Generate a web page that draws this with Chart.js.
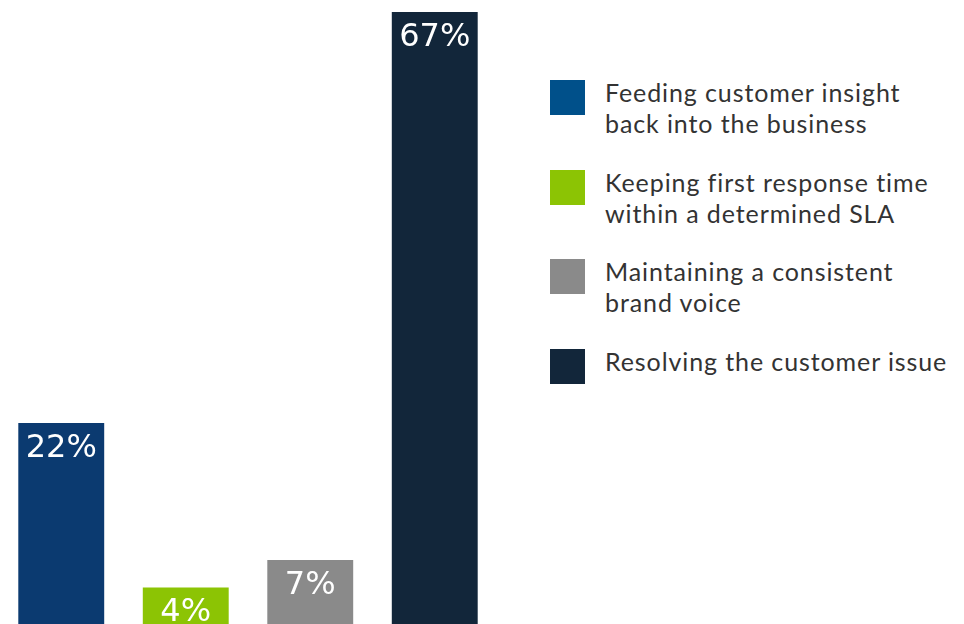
<!DOCTYPE html>
<html>
<head>
<meta charset="utf-8">
<script src="https://cdn.jsdelivr.net/npm/chart.js@4.4.1/dist/chart.umd.min.js"></script>
<style>
    body { margin: 0; background: #fff; width: 964px; height: 624px; overflow: hidden; position: relative; }
    .chart-box { position: absolute; left: -1px; top: 0; width: 498px; height: 624px; }
    .legend { position: absolute; left: 550px; top: 80px; font-family: Lato, sans-serif; font-size: 25px; letter-spacing: 0.9px; color: #333; }
    .legend-item { position: relative; height: 89.5px; }
    .legend-item .swatch { position: absolute; left: 0; top: 0; width: 35px; height: 35px; }
    .legend-item .text { position: absolute; left: 55px; top: -3px; line-height: 31px; white-space: nowrap; }
</style>
</head>
<body>
<div class="chart-box"><canvas id="barChart"></canvas></div>
<div class="legend" id="legend"></div>

<script>
const categories = [
    ['Feeding customer insight', 'back into the business'],
    ['Keeping first response time', 'within a determined SLA'],
    ['Maintaining a consistent', 'brand voice'],
    ['Resolving the customer issue']
];
const values = [22, 4, 7, 67];
const barColors = ['#0b3a70', '#8cc404', '#8a8a8a', '#12263a'];
const legendColors = ['#00508a', '#8cc404', '#8a8a8a', '#12263a'];

// legend on the right, one square + wrapped label per category
const legend = document.getElementById('legend');
categories.forEach((lines, i) => {
    const item = document.createElement('div');
    item.className = 'legend-item';
    item.innerHTML = '<div class="swatch" style="background:' + legendColors[i] + '"></div>' +
        '<div class="text">' + lines.join('<br>') + '</div>';
    legend.appendChild(item);
});

// white % labels just inside the top of each bar
const topLabels = {
    id: 'topLabels',
    afterDatasetsDraw(chart) {
        const ctx = chart.ctx;
        const meta = chart.getDatasetMeta(0);
        ctx.save();
        ctx.fillStyle = '#fff';
        ctx.font = '32px "DejaVu Sans", sans-serif';
        ctx.textAlign = 'center';
        ctx.textBaseline = 'alphabetic';
        meta.data.forEach((bar, i) => {
            ctx.fillText(values[i] + '%', bar.x, bar.y + 34);
        });
        ctx.restore();
    }
};

const ctx = document.getElementById('barChart').getContext('2d');
new Chart(ctx, {
    type: 'bar',
    data: {
        labels: categories.map(c => c.join(' ')),
        datasets: [{
            data: values,
            backgroundColor: barColors,
            borderWidth: 0,
            barPercentage: 0.69,
            categoryPercentage: 1
        }]
    },
    options: {
        responsive: true,
        maintainAspectRatio: false,
        animation: false,
        layout: { padding: 0 },
        plugins: {
            legend: { display: false },
            tooltip: { enabled: false }
        },
        scales: {
            x: { display: false },
            y: { display: false, min: 0, max: 68.31 }
        }
    },
    plugins: [topLabels]
});
</script>
</body>
</html>
